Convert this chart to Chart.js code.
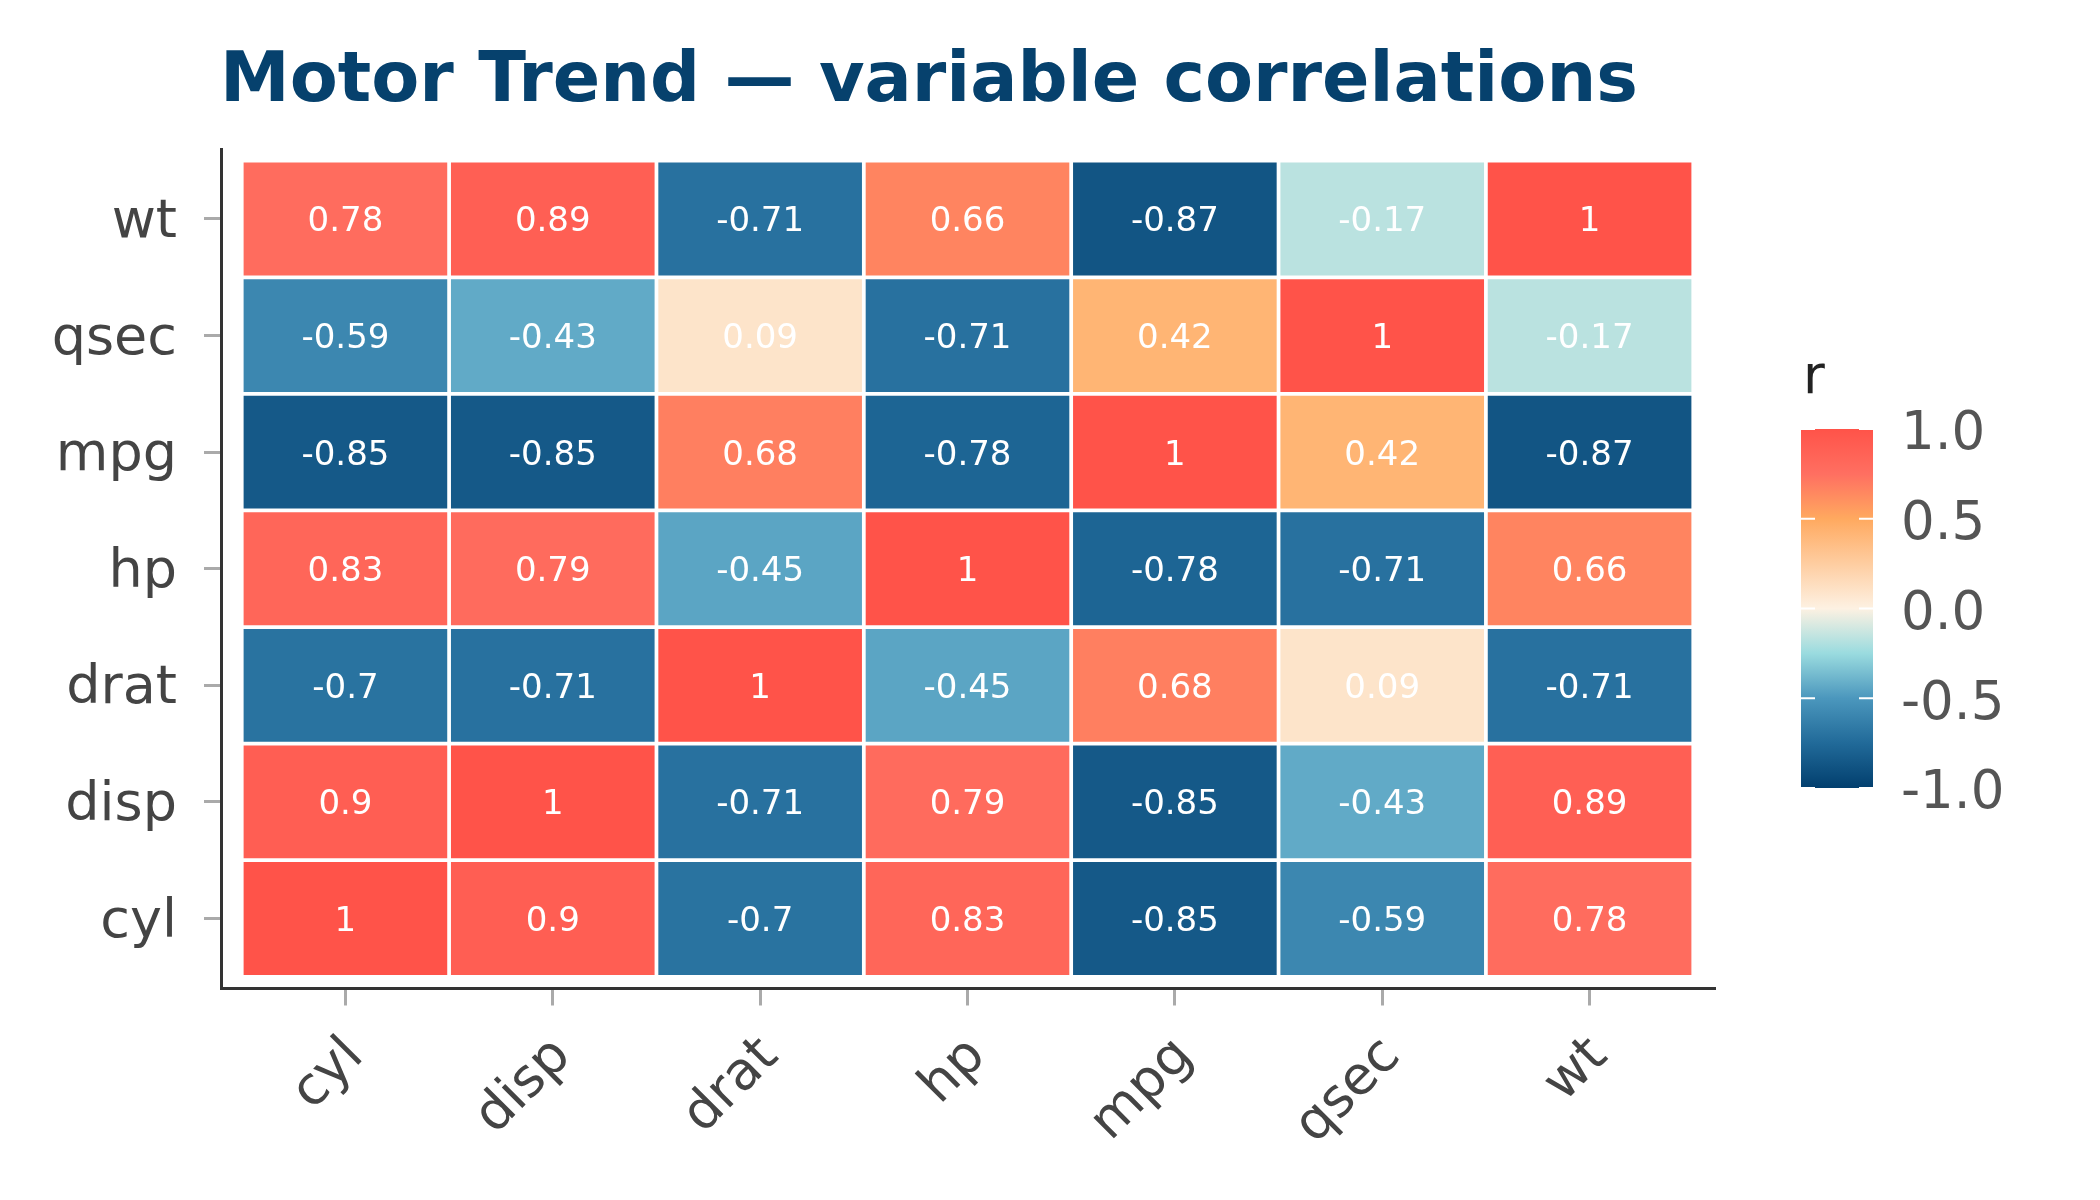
<!DOCTYPE html>
<html>
<head>
<meta charset="utf-8">
<script src="https://cdn.jsdelivr.net/npm/chart.js@4.4.1/dist/chart.umd.min.js"></script>
<style>
  html, body { margin: 0; padding: 0; background: #ffffff; }
  canvas { display: block; }
</style>
</head>
<body>
<canvas id="corrChart" width="2100" height="1200"></canvas>
<script>
// Variables in axis order (left -> right on x, bottom -> top on y)
var variables = ["cyl", "disp", "drat", "hp", "mpg", "qsec", "wt"];

// One correlation row per variable, columns in the same order
var rowCyl  = [1, 0.9, -0.7, 0.83, -0.85, -0.59, 0.78];
var rowDisp = [0.9, 1, -0.71, 0.79, -0.85, -0.43, 0.89];
var rowDrat = [-0.7, -0.71, 1, -0.45, 0.68, 0.09, -0.71];
var rowHp   = [0.83, 0.79, -0.45, 1, -0.78, -0.71, 0.66];
var rowMpg  = [-0.85, -0.85, 0.68, -0.78, 1, 0.42, -0.87];
var rowQsec = [-0.59, -0.43, 0.09, -0.71, 0.42, 1, -0.17];
var rowWt   = [0.78, 0.89, -0.71, 0.66, -0.87, -0.17, 1];
var corrRows = [rowCyl, rowDisp, rowDrat, rowHp, rowMpg, rowQsec, rowWt];

// Colour bar
var legendTitle = "r";
var legendTicks = [1.0, 0.5, 0.0, -0.5, -1.0];
var chartTitle = "Motor Trend \u2014 variable correlations";

// Diverging colour scale
var scaleStops  = [-1, -0.75, -0.5, -0.25, 0, 0.5, 0.75, 1];
var scaleColors = ["#023f6e", "#216a99", "#4b97bd", "#9adbdf", "#fdf1e2", "#ffa95f", "#ff6f61", "#ff5349"];

var fontFamily = "'DejaVu Sans', 'Liberation Sans', sans-serif";

function hexToRgb(h) {
    return [parseInt(h.substr(1, 2), 16), parseInt(h.substr(3, 2), 16), parseInt(h.substr(5, 2), 16)];
}

function colorFor(v) {
    for (var i = 1; i < scaleStops.length; i++) {
        if (v <= scaleStops[i]) {
            var t = (v - scaleStops[i - 1]) / (scaleStops[i] - scaleStops[i - 1]);
            var a = hexToRgb(scaleColors[i - 1]);
            var b = hexToRgb(scaleColors[i]);
            var c = a.map(function(x, k) { return Math.round(x + (b[k] - x) * t); });
            return "rgb(" + c.join(",") + ")";
        }
    }
    return scaleColors[scaleColors.length - 1];
}

// One floating-bar dataset per row; each bar spans one unit in x and y
var datasets = corrRows.map(function(row, r) {
    return {
        label: variables[r],
        data: row.map(function(v, c) { return {x: c + 1, y: [r + 0.5, r + 1.5]}; }),
        backgroundColor: row.map(colorFor),
        borderColor: "#ffffff",
        borderWidth: 2.2,
        borderSkipped: false,
        grouped: false,
        barPercentage: 1,
        categoryPercentage: 1
    };
});

function unitTicks(scale) {
    scale.ticks = variables.map(function(v, i) { return {value: i + 1}; });
}

// Cell value labels, digits centred on the cell
var cellLabels = {
    id: "cellLabels",
    afterDatasetsDraw: function(chart) {
        var ctx = chart.ctx;
        var size = 34;
        ctx.save();
        ctx.fillStyle = "#ffffff";
        ctx.font = size + "px " + fontFamily;
        ctx.textAlign = "center";
        ctx.textBaseline = "alphabetic";
        chart.data.datasets.forEach(function(ds, r) {
            chart.getDatasetMeta(r).data.forEach(function(el, c) {
                var p = el.getCenterPoint();
                ctx.fillText(String(corrRows[r][c]), p.x, p.y + size * 0.729 / 2);
            });
        });
        ctx.restore();
    }
};

// Title and colour bar legend
var decorations = {
    id: "decorations",
    afterDraw: function(chart) {
        var ctx = chart.ctx;
        ctx.save();

        ctx.fillStyle = "#06416d";
        ctx.font = "bold 70px " + fontFamily;
        ctx.textAlign = "left";
        ctx.textBaseline = "alphabetic";
        ctx.fillText(chartTitle, 220, 101);

        var x0 = 1801, x1 = 1873, top = 429, bottom = 788;
        var grad = ctx.createLinearGradient(0, bottom, 0, top);
        scaleStops.forEach(function(s, i) {
            grad.addColorStop((s + 1) / 2, scaleColors[i]);
        });
        ctx.fillStyle = grad;
        ctx.fillRect(x0, top, x1 - x0, bottom - top);

        var size = 53;
        ctx.strokeStyle = "#ffffff";
        ctx.lineWidth = 2;
        ctx.font = size + "px " + fontFamily;
        legendTicks.forEach(function(t) {
            var y = top + (1 - t) / 2 * (bottom - top);
            ctx.beginPath();
            ctx.moveTo(x0, y); ctx.lineTo(x0 + 14, y);
            ctx.moveTo(x1 - 14, y); ctx.lineTo(x1, y);
            ctx.stroke();
            ctx.fillStyle = "#555555";
            ctx.fillText(t.toFixed(1), 1901, y + size * 0.729 / 2 + 1);
        });

        ctx.fillStyle = "#222222";
        ctx.fillText(legendTitle, 1803, 393);
        ctx.restore();
    }
};

var axisGrid = {display: true, drawOnChartArea: false, drawTicks: true, tickLength: 17,
                color: "#aaaaaa", lineWidth: 3, offset: false};
var axisBorder = {display: true, color: "#333333", width: 3};

new Chart(document.getElementById("corrChart"), {
    type: "bar",
    data: {datasets: datasets},
    plugins: [cellLabels, decorations],
    options: {
        responsive: false,
        animation: false,
        events: [],
        devicePixelRatio: 1,
        layout: {padding: {top: 149, right: 386, bottom: 0, left: 0}},
        plugins: {legend: {display: false}, tooltip: {enabled: false}, title: {display: false}},
        scales: {
            x: {
                type: "linear", min: 0.4, max: 7.6, offset: false,
                afterBuildTicks: unitTicks,
                afterFit: function(s) { s.height = 211.5; },
                grid: axisGrid, border: axisBorder,
                ticks: {
                    autoSkip: false, minRotation: 45, maxRotation: 45, padding: 20, labelOffset: 10,
                    color: "#444444", font: {family: fontFamily, size: 53},
                    callback: function(v) { return variables[v - 1]; }
                }
            },
            y: {
                type: "linear", min: 0.4, max: 7.6, beginAtZero: false,
                afterBuildTicks: unitTicks,
                afterFit: function(s) { s.width = 221; },
                grid: axisGrid, border: axisBorder,
                ticks: {
                    autoSkip: false, padding: 27, labelOffset: 4,
                    color: "#444444", font: {family: fontFamily, size: 54},
                    callback: function(v) { return variables[v - 1]; }
                }
            }
        }
    }
});
</script>
</body>
</html>
